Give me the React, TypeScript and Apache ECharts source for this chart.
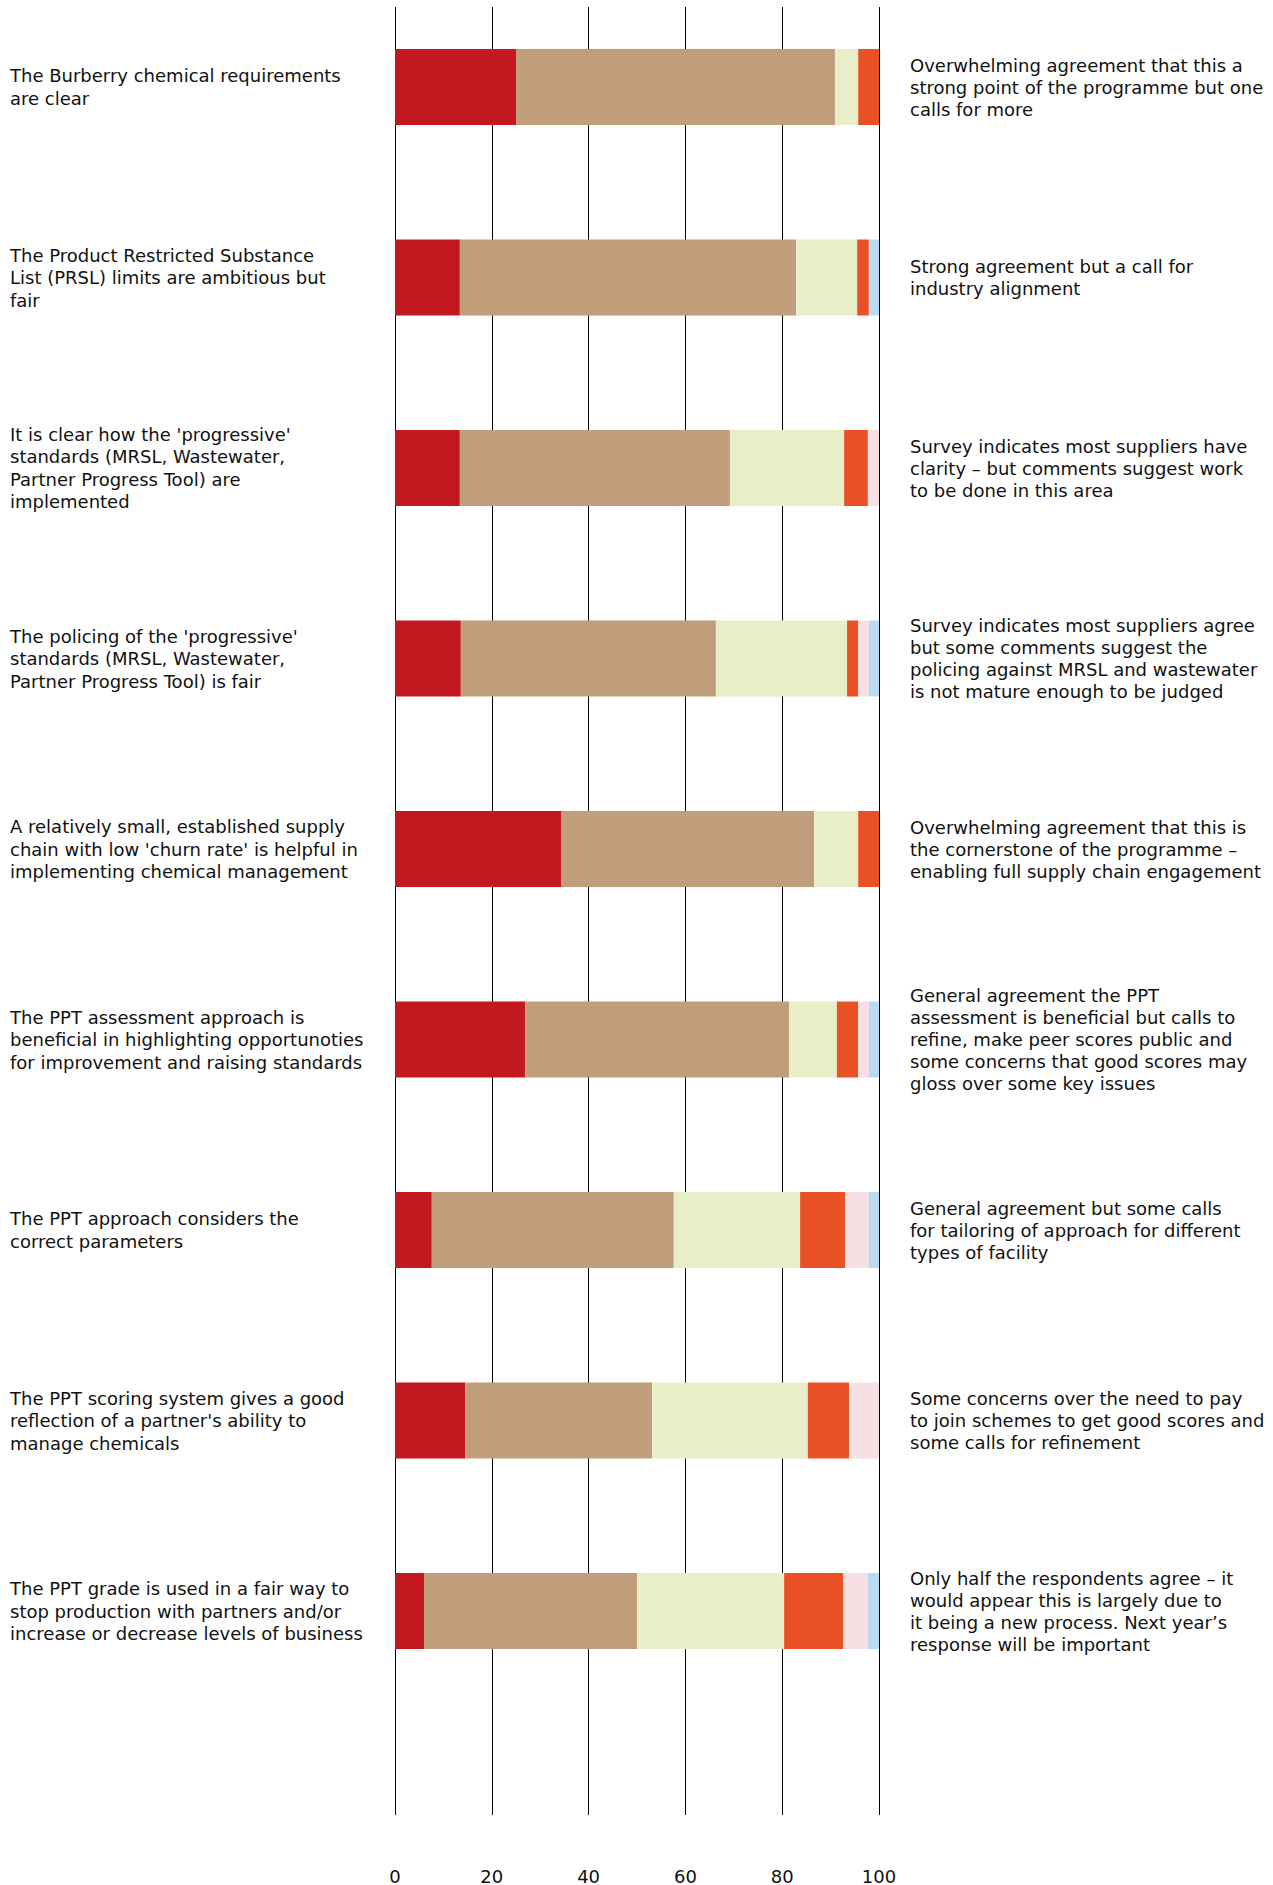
import React, { useEffect, useRef } from "react";
import * as echarts from "echarts";

const statements = [
  "The Burberry chemical requirements\nare clear",
  "The Product Restricted Substance\nList (PRSL) limits are ambitious but\nfair",
  "It is clear how the 'progressive'\nstandards (MRSL, Wastewater,\nPartner Progress Tool) are\nimplemented",
  "The policing of the 'progressive'\nstandards (MRSL, Wastewater,\nPartner Progress Tool) is fair",
  "A relatively small, established supply\nchain with low 'churn rate' is helpful in\nimplementing chemical management",
  "The PPT assessment approach is\nbeneficial in highlighting opportunoties\nfor improvement and raising standards",
  "The PPT approach considers the\ncorrect parameters",
  "The PPT scoring system gives a good\nreflection of a partner's ability to\nmanage chemicals",
  "The PPT grade is used in a fair way to\nstop production with partners and/or\nincrease or decrease levels of business",
];

const comments = [
  "Overwhelming agreement that this a\nstrong point of the programme but one\ncalls for more",
  "Strong agreement but a call for\nindustry alignment",
  "Survey indicates most suppliers have\nclarity – but comments suggest work\nto be done in this area",
  "Survey indicates most suppliers agree\nbut some comments suggest the\npolicing against MRSL and wastewater\nis not mature enough to be judged",
  "Overwhelming agreement that this is\nthe cornerstone of the programme –\nenabling full supply chain engagement",
  "General agreement the PPT\nassessment is beneficial but calls to\nrefine, make peer scores public and\nsome concerns that good scores may\ngloss over some key issues",
  "General agreement but some calls\nfor tailoring of approach for different\ntypes of facility",
  "Some concerns over the need to pay\nto join schemes to get good scores and\nsome calls for refinement",
  "Only half the respondents agree – it\nwould appear this is largely due to\nit being a new process. Next year’s\nresponse will be important",
];

const seriesNames = ["Strongly agree", "Agree", "Neutral", "Disagree", "Strongly disagree", "Don't know"];
const stronglyAgree = [25.0, 13.4, 13.4, 13.6, 34.3, 26.9, 7.6, 14.5, 6.0];
const agree = [65.9, 69.5, 55.8, 52.7, 52.3, 54.5, 50.0, 38.6, 44.0];
const neutral = [4.8, 12.6, 23.6, 27.1, 9.1, 9.9, 26.1, 32.2, 30.4];
const disagree = [4.3, 2.4, 4.9, 2.3, 4.3, 4.4, 9.3, 8.5, 12.2];
const stronglyDisagree = [0, 0, 2.3, 2.2, 0, 2.2, 4.9, 6.2, 5.1];
const dontKnow = [0, 2.1, 0, 2.1, 0, 2.1, 2.1, 0, 2.3];
const xTicks = [0, 20, 40, 60, 80, 100];

const colors = ["#C41820", "#C19E7B", "#E8EEC8", "#E95025", "#F7E0E4", "#B8DAF3"];
const seriesValues = [stronglyAgree, agree, neutral, disagree, stronglyDisagree, dontKnow];

const FONT = "'DejaVu Sans', sans-serif";

export default function App() {
  const ref = useRef<HTMLDivElement>(null);
  useEffect(() => {
    if (!ref.current) return;
    const chart = echarts.init(ref.current, undefined, { renderer: "svg" });
    const left = 395;
    const width = 484;
    chart.setOption({
      animation: false,
      backgroundColor: "#ffffff",
      grid: [
        { left, width, top: 7, height: 1809 },
        { left, width, top: 87, height: 1524 },
      ],
      xAxis: [
        {
          gridIndex: 0,
          type: "value",
          min: xTicks[0],
          max: xTicks[xTicks.length - 1],
          interval: 20,
          axisLine: { show: false },
          axisTick: { show: false },
          splitLine: { show: true, lineStyle: { color: "#000", width: 1 } },
          axisLabel: {
            margin: 52,
            fontSize: 18,
            color: "#111",
            fontFamily: FONT,
          },
        },
        {
          gridIndex: 1,
          type: "value",
          min: 0,
          max: 100,
          show: false,
        },
      ],
      yAxis: [
        { gridIndex: 0, type: "value", show: false },
        {
          gridIndex: 1,
          type: "category",
          inverse: true,
          boundaryGap: false,
          data: statements,
          axisLine: { show: false },
          axisTick: { show: false },
          splitLine: { show: false },
          axisLabel: {
            interval: 0,
            align: "left",
            margin: left - 10,
            fontSize: 18,
            lineHeight: 22.5,
            color: "#111",
            fontFamily: FONT,
          },
        },
        {
          gridIndex: 1,
          type: "category",
          position: "right",
          inverse: true,
          boundaryGap: false,
          data: comments,
          axisLine: { show: false },
          axisTick: { show: false },
          splitLine: { show: false },
          axisLabel: {
            interval: 0,
            align: "left",
            margin: 31,
            fontSize: 18,
            lineHeight: 22,
            color: "#111",
            fontFamily: FONT,
          },
        },
      ],
      series: seriesNames.map((name, i) => ({
        name,
        type: "bar",
        stack: "total",
        xAxisIndex: 1,
        yAxisIndex: 1,
        barWidth: 76,
        itemStyle: { color: colors[i] },
        data: seriesValues[i],
      })),
    });
    return () => chart.dispose();
  }, []);
  return (
    <div
      ref={ref}
      style={{ position: "absolute", left: 0, top: 0, width: 1273, height: 1885 }}
    />
  );
}
